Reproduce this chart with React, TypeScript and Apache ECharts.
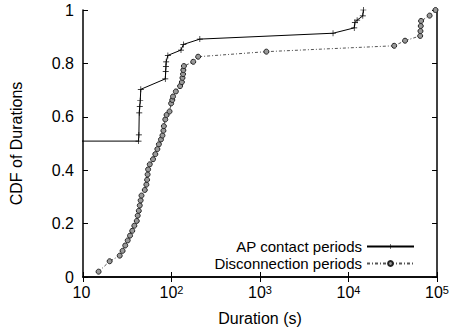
import React, { useEffect, useRef } from "react";
import * as echarts from "echarts";

// AP contact periods: [duration (s), CDF]
const apDurations = [5, 42.4, 42.8, 43.2, 43.8, 44.3, 45, 85, 86, 86.5, 87, 91, 128, 136, 209, 6680, 11600, 11800, 12500, 14500, 14700];
const apCdf = [0.509, 0.509, 0.532, 0.615, 0.638, 0.66, 0.703, 0.742, 0.769, 0.788, 0.806, 0.83, 0.85, 0.871, 0.891, 0.913, 0.933, 0.953, 0.962, 0.978, 1.0];

// Disconnection periods: [duration (s), CDF]
const discDurations = [15, 20, 26, 28, 30, 32, 34, 36, 38, 40.5, 41.5, 42.7, 43.8, 44.8, 45.8, 49.9, 52, 53, 53.7, 54.4, 56.8, 61.8, 65.6, 69.2, 72, 76, 79, 81, 82, 85, 88, 95, 99, 102, 104, 112, 125, 131, 133, 135, 136, 138, 176, 200, 1180, 32800, 43500, 64500, 65000, 65500, 66000, 82400, 96100];
const discCdf = [0.02, 0.059, 0.08, 0.098, 0.118, 0.137, 0.155, 0.173, 0.192, 0.21, 0.23, 0.248, 0.268, 0.287, 0.305, 0.326, 0.346, 0.364, 0.384, 0.403, 0.422, 0.441, 0.46, 0.479, 0.497, 0.515, 0.53, 0.548, 0.565, 0.59, 0.607, 0.62, 0.65, 0.663, 0.676, 0.695, 0.715, 0.73, 0.746, 0.76, 0.775, 0.79, 0.806, 0.825, 0.844, 0.866, 0.885, 0.903, 0.921, 0.94, 0.959, 0.979, 1.0];

const seriesNames = ["AP contact periods", "Disconnection periods"];
const xLabel = "Duration (s)";
const yLabel = "CDF of Durations";

const FONT = "'Liberation Sans', Arial, Helvetica, sans-serif";
const PLUS = "path://M4,0h1v4h4v1h-4v4h-1v-4h-4v-1h4z";

export default function App() {
  const ref = useRef<HTMLDivElement>(null);
  useEffect(() => {
    if (!ref.current) return;
    const chart = echarts.init(ref.current, null, { renderer: "svg" });
    const axisLine = { show: true, lineStyle: { color: "#000", width: 1.5 } };
    const tick = { show: true, inside: true, length: 5, lineStyle: { color: "#000", width: 1 } };
    chart.setOption({
      animation: false,
      backgroundColor: "#fff",
      textStyle: { fontFamily: FONT },
      grid: { left: 81, right: 14, top: 10, bottom: 55, containLabel: false },
      legend: {
        data: seriesNames,
        orient: "vertical",
        align: "right",
        right: 32,
        top: 234,
        itemWidth: 47,
        itemHeight: 6,
        itemGap: 2,
        selectedMode: false,
        textStyle: { fontSize: 15, color: "#000", fontFamily: FONT },
      },
      xAxis: [
        {
          type: "log",
          logBase: 10,
          min: 10,
          max: 100000,
          position: "bottom",
          name: xLabel,
          nameLocation: "middle",
          nameGap: 29,
          nameTextStyle: { fontSize: 16, color: "#000", fontFamily: FONT },
          axisLine,
          axisTick: tick,
          splitLine: { show: false },
          minorTick: { show: false },
          axisLabel: {
            margin: 7,
            color: "#000",
            formatter: (v: number) => {
              const e = Math.round(Math.log10(v));
              return e === 1 ? "{b|10}{s| }" : `{b|10}{s|${e}}`;
            },
            rich: {
              b: { fontSize: 16, lineHeight: 16, verticalAlign: "bottom", color: "#000", fontFamily: FONT },
              s: { fontSize: 11, lineHeight: 11, verticalAlign: "top", padding: [0, 0, 11, 0], color: "#000", fontFamily: FONT },
            },
          },
        },
        {
          type: "log",
          logBase: 10,
          min: 10,
          max: 100000,
          position: "top",
          axisLine,
          axisTick: tick,
          axisLabel: { show: false },
          splitLine: { show: false },
        },
      ],
      yAxis: [
        {
          type: "value",
          min: 0,
          max: 1,
          interval: 0.2,
          position: "left",
          name: yLabel,
          nameLocation: "middle",
          nameGap: 59,
          nameTextStyle: { fontSize: 16, color: "#000", fontFamily: FONT },
          axisLine,
          axisTick: tick,
          splitLine: { show: false },
          axisLabel: { margin: 9, fontSize: 16, color: "#000", fontFamily: FONT },
        },
        {
          type: "value",
          min: 0,
          max: 1,
          interval: 0.2,
          position: "right",
          axisLine,
          axisTick: tick,
          axisLabel: { show: false },
          splitLine: { show: false },
        },
      ],
      series: [
        {
          name: seriesNames[0],
          type: "line",
          xAxisIndex: 0,
          yAxisIndex: 0,
          clip: true,
          data: apDurations.map((d, i) => [d, apCdf[i]]),
          symbol: PLUS,
          symbolSize: 6,
          showAllSymbol: true,
          itemStyle: { color: "#000" },
          lineStyle: { color: "#000", width: 1 },
          z: 3,
        },
        {
          name: seriesNames[1],
          type: "line",
          xAxisIndex: 0,
          yAxisIndex: 0,
          clip: true,
          data: discDurations.map((d, i) => [d, discCdf[i]]),
          symbol: "circle",
          symbolSize: 5,
          showAllSymbol: true,
          itemStyle: { color: "#999", borderColor: "#222", borderWidth: 1 },
          lineStyle: { color: "#555", width: 1, type: [3, 2, 1, 2] },
          z: 2,
        },
      ],
    });
    return () => chart.dispose();
  }, []);
  return (
    <div
      ref={ref}
      style={{ position: "fixed", left: 0, top: 0, width: 452, height: 332, background: "#fff" }}
    />
  );
}
